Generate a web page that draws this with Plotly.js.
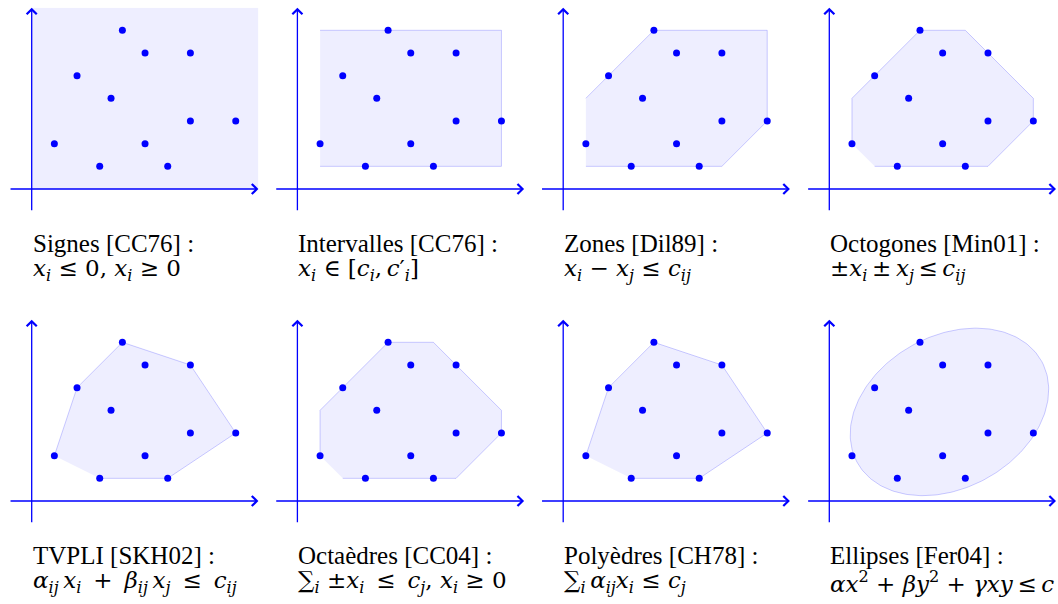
<!DOCTYPE html>
<html><head><meta charset="utf-8">
<script src="https://cdn.plot.ly/plotly-3.0.1.min.js"></script>
<style>html,body{margin:0;padding:0;background:#fff}</style>
</head><body><div id="chart" style="width:1058px;height:604px"></div>
<script>
// Points (same set in every panel)
const pointsX = [4, 5, 7, 2, 3.5, 7, 9, 1, 5, 3, 6];
const pointsY = [7, 6, 6, 5, 4,   3, 3, 2, 2, 1, 1];

// Panel labels
const titles = [
  "Signes [CC76] :", "Intervalles [CC76] :", "Zones [Dil89] :", "Octogones [Min01] :",
  "TVPLI [SKH02] :", "Octaèdres [CC04] :", "Polyèdres [CH78] :", "Ellipses [Fer04] :"
];
const S = "\u00a0";        // normal space
const T = "\u2009";        // thin space
const L = "\u00a0\u2009";  // wide space
const formulas = [
  "<i>x</i><sub><i>i</i></sub>" + S + "≤" + S + "0, <i>x</i><sub><i>i</i></sub>" + S + "≥" + S + "0",
  "<i>x</i><sub><i>i</i></sub>" + S + "∈" + S + "[<i>c</i><sub><i>i</i></sub>," + T + "<i>c</i>′<sub><i>i</i></sub>]",
  "<i>x</i><sub><i>i</i></sub>" + S + "−" + S + "<i>x</i><sub><i>j</i></sub>" + S + "≤" + S + "<i>c</i><sub><i>ij</i></sub>",
  "±<i>x</i><sub><i>i</i></sub>" + T + "±" + T + "<i>x</i><sub><i>j</i></sub>" + T + "≤" + T + "<i>c</i><sub><i>ij</i></sub>",
  "<i>α</i><sub><i>ij</i></sub>" + T + "<i>x</i><sub><i>i</i></sub>" + L + "+" + L + "<i>β</i><sub><i>ij</i></sub>" + T + "<i>x</i><sub><i>j</i></sub>" + L + "≤" + L + "<i>c</i><sub><i>ij</i></sub>",
  "∑<sub><i>i</i></sub>" + S + "±<i>x</i><sub><i>i</i></sub>" + L + "≤" + L + "<i>c</i><sub><i>j</i></sub>," + S + "<i>x</i><sub><i>i</i></sub>" + S + "≥" + S + "0",
  "∑<sub><i>i</i></sub>" + T + "<i>α</i><sub><i>ij</i></sub><i>x</i><sub><i>i</i></sub>" + S + "≤" + S + "<i>c</i><sub><i>j</i></sub>",
  "<i>αx</i><sup>2</sup>" + S + "+" + S + "<i>βy</i><sup>2</sup>" + S + "+" + S + "<i>γxy</i>" + T + "≤" + T + "<i>c</i>"
];

// Abstract domains (vertices)
const signesX = [0, 10, 10, 0];
const signesY = [0, 0, 8, 8];
const intervallesX = [1, 9, 9, 1];
const intervallesY = [1, 1, 7, 7];
const zonesX = [1, 7, 9, 9, 4, 1];
const zonesY = [1, 1, 3, 7, 7, 4];
const octogonesX = [2, 7, 9, 9, 6, 4, 1, 1];
const octogonesY = [1, 1, 3, 4, 7, 7, 4, 2];
const tvpliX = [3, 6, 9, 7, 4, 2, 1];
const tvpliY = [1, 1, 3, 6, 7, 5, 2];
const octaedresX = [2, 7, 9, 9, 6, 4, 1, 1];
const octaedresY = [1, 1, 3, 4, 7, 7, 4, 2];
const polyedresX = [3, 6, 9, 7, 4, 2, 1];
const polyedresY = [1, 1, 3, 6, 7, 5, 2];
const ellipseCenter = [5.3, 3.93];
const ellipseAxes = [4.64, 3.36];
const ellipseAngleDeg = 28.7;

function ellipsePath() {
  const xs = [], ys = [];
  const th = ellipseAngleDeg * Math.PI / 180;
  for (let k = 0; k <= 240; k++) {
    const t = 2 * Math.PI * k / 240;
    const u = ellipseAxes[0] * Math.cos(t), v = ellipseAxes[1] * Math.sin(t);
    xs.push(ellipseCenter[0] + u * Math.cos(th) - v * Math.sin(th));
    ys.push(ellipseCenter[1] + u * Math.sin(th) + v * Math.cos(th));
  }
  return [xs, ys];
}
const ell = ellipsePath();

const shapesX = [signesX, intervallesX, zonesX, octogonesX, tvpliX, octaedresX, polyedresX, ell[0]];
const shapesY = [signesY, intervallesY, zonesY, octogonesY, tvpliY, octaedresY, polyedresY, ell[1]];

const W = 1058, H = 604;
const unit = 22.67;
const colOrigin = [31.7, 297.4, 563.2, 829.3];
const rowOrigin = [189, 501];
const BLUE = "#0000ff";
const TITLE_FONT = {size: 25, family: "Liberation Serif, serif", color: "#000"};
const MATH_FONT = {size: 23, family: "DejaVu Serif, serif", color: "#000"};

const data = [];
const layout = {
  width: W, height: H,
  margin: {l: 0, r: 0, t: 0, b: 0},
  paper_bgcolor: "#fff", plot_bgcolor: "rgba(0,0,0,0)",
  showlegend: false,
  annotations: [],
  font: {family: "Liberation Serif, serif", color: "#000"}
};

for (let i = 0; i < 8; i++) {
  const c = i % 4, r = Math.floor(i / 4);
  const id = i + 1;
  const xa = "x" + (id === 1 ? "" : id), ya = "y" + (id === 1 ? "" : id);
  const xk = "xaxis" + (id === 1 ? "" : id), yk = "yaxis" + (id === 1 ? "" : id);
  const ox = colOrigin[c], oy = rowOrigin[r];
  layout[xk] = {domain: [(ox - unit) / W, (ox + 10 * unit) / W], range: [-1, 10],
                visible: false, fixedrange: true, anchor: ya};
  layout[yk] = {domain: [1 - (oy + unit) / H, 1 - (oy - 8 * unit) / H], range: [-1, 8],
                visible: false, fixedrange: true, anchor: xa};
  data.push({
    x: shapesX[i], y: shapesY[i], xaxis: xa, yaxis: ya,
    type: "scatter", mode: "lines", fill: "toself",
    fillcolor: "rgba(0,0,255,0.066)",
    line: {color: "rgba(0,0,255,0.2)", width: i === 0 ? 0 : 1},
    hoverinfo: "skip"
  });
  data.push({
    x: pointsX, y: pointsY, xaxis: xa, yaxis: ya,
    type: "scatter", mode: "markers",
    marker: {color: BLUE, size: 7},
    hoverinfo: "skip", cliponaxis: false
  });
  // axes with arrows
  layout.annotations.push({
    xref: xa, yref: ya, axref: xa, ayref: ya,
    x: 10, y: 0, ax: -1, ay: 0, text: "", showarrow: true,
    arrowhead: 4, arrowsize: 1.5, arrowwidth: 1.3, arrowcolor: BLUE
  });
  layout.annotations.push({
    xref: xa, yref: ya, axref: xa, ayref: ya,
    x: 0, y: 8, ax: 0, ay: -1, text: "", showarrow: true,
    arrowhead: 4, arrowsize: 1.5, arrowwidth: 1.3, arrowcolor: BLUE
  });
  // labels
  const tx = (ox - 1) / W;
  const ty1 = 1 - (oy + 54) / H, ty2 = 1 - (oy + 81) / H;
  layout.annotations.push({
    xref: "paper", yref: "paper", x: tx, y: ty1, xanchor: "left", yanchor: "middle",
    text: titles[i], showarrow: false, font: TITLE_FONT
  });
  layout.annotations.push({
    xref: "paper", yref: "paper", x: tx, y: ty2, xanchor: "left", yanchor: "middle",
    text: formulas[i], showarrow: false, font: MATH_FONT
  });
}

Plotly.newPlot("chart", data, layout, {staticPlot: true, displayModeBar: false});
</script></body></html>
